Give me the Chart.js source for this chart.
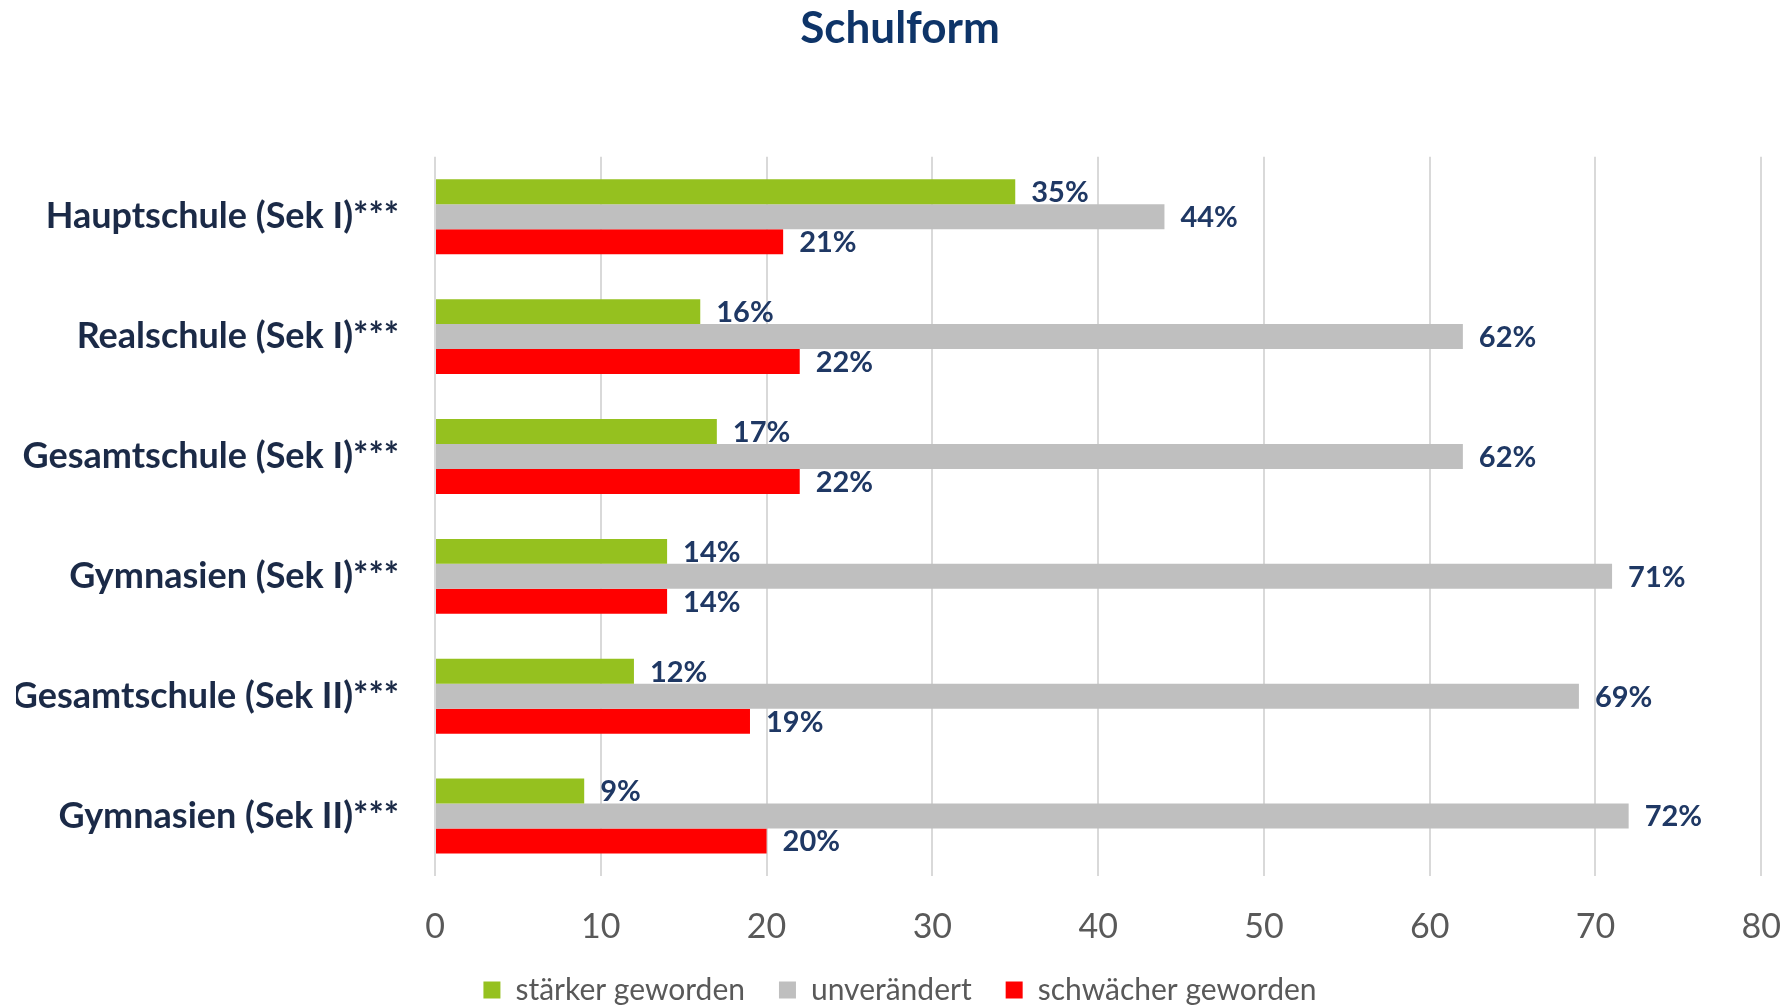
<!DOCTYPE html>
<html>
<head>
<meta charset="utf-8">
<script src="https://cdn.jsdelivr.net/npm/chart.js@4.4.1/dist/chart.umd.min.js"></script>
<style>
    html, body { margin: 0; padding: 0; background: #ffffff; }
    #chart { display: block; }
</style>
</head>
<body>
<canvas id="chart" width="1785" height="1007"></canvas>
<script>
// Categories and the three answer groups (percent)
const schoolTypes = [
    'Hauptschule (Sek I)***',
    'Realschule (Sek I)***',
    'Gesamtschule (Sek I)***',
    'Gymnasien (Sek I)***',
    'Gesamtschule (Sek II)***',
    'Gymnasien (Sek II)***'
];
const seriesNames = ['stärker geworden', 'unverändert', 'schwächer geworden'];
const stronger = [35, 16, 17, 14, 12, 9];
const unchanged = [44, 62, 62, 71, 69, 72];
const weaker = [21, 22, 22, 14, 19, 20];
const xTicks = [0, 10, 20, 30, 40, 50, 60, 70, 80];

const barColors = ['#95C11F', '#BFBFBF', '#FF0000'];
const fontName = 'Lato, "Open Sans", sans-serif';

// Draws the "35%" labels right after each bar
const valueLabels = {
    id: 'valueLabels',
    afterDatasetsDraw(chart) {
        const ctx = chart.ctx;
        ctx.save();
        ctx.font = 'bold 29px ' + fontName;
        ctx.fillStyle = '#1F3864';
        ctx.textAlign = 'left';
        ctx.textBaseline = 'middle';
        chart.data.datasets.forEach((ds, i) => {
            let meta = chart.getDatasetMeta(i);
            meta.data.forEach((bar, j) => {
                ctx.fillText(ds.data[j] + '%', bar.x + 16, bar.y + 1);
            });
        });
        ctx.restore();
    }
};

let chart = new Chart(document.getElementById('chart'), {
    type: 'bar',
    data: {
        labels: schoolTypes,
        datasets: [
            { label: seriesNames[0], data: stronger, backgroundColor: barColors[0] },
            { label: seriesNames[1], data: unchanged, backgroundColor: barColors[1] },
            { label: seriesNames[2], data: weaker, backgroundColor: barColors[2] }
        ]
    },
    options: {
        indexAxis: 'y',
        responsive: false,
        animation: false,
        devicePixelRatio: 1,
        datasets: {
            bar: {
                barPercentage: 1,
                categoryPercentage: 0.625
            }
        },
        layout: {
            padding: { left: 16, right: 1, top: 0, bottom: -8 }
        },
        scales: {
            x: {
                min: 0,
                max: 80,
                afterBuildTicks: scale => {
                    scale.ticks = xTicks.map(v => ({ value: v }));
                },
                afterFit: scale => {
                    scale.height = 65;
                },
                grid: {
                    color: '#D9D9D9',
                    lineWidth: 2,
                    drawTicks: true,
                    tickLength: 27,
                    tickColor: 'rgba(0,0,0,0)'
                },
                border: { display: false },
                ticks: {
                    padding: 4,
                    color: '#595959',
                    font: { family: fontName, size: 34 }
                }
            },
            y: {
                afterFit: scale => {
                    // chart area starts at x = 435
                    scale.width = 419;
                },
                grid: { display: false, drawTicks: false },
                border: { display: false },
                ticks: {
                    padding: 36,
                    color: '#1B2A47',
                    font: { family: fontName, size: 36, weight: 'bold' }
                }
            }
        },
        plugins: {
            title: {
                display: true,
                text: 'Schulform',
                color: '#0E3468',
                font: { family: fontName, size: 44, weight: 'bold', lineHeight: 1.2 },
                padding: { top: 2, bottom: 102 }
            },
            legend: {
                position: 'bottom',
                labels: {
                    boxWidth: 17,
                    boxHeight: 17,
                    padding: 34,
                    color: '#595959',
                    font: { family: fontName, size: 30 }
                }
            },
            tooltip: { enabled: false }
        }
    },
    plugins: [valueLabels]
});
</script>
</body>
</html>
